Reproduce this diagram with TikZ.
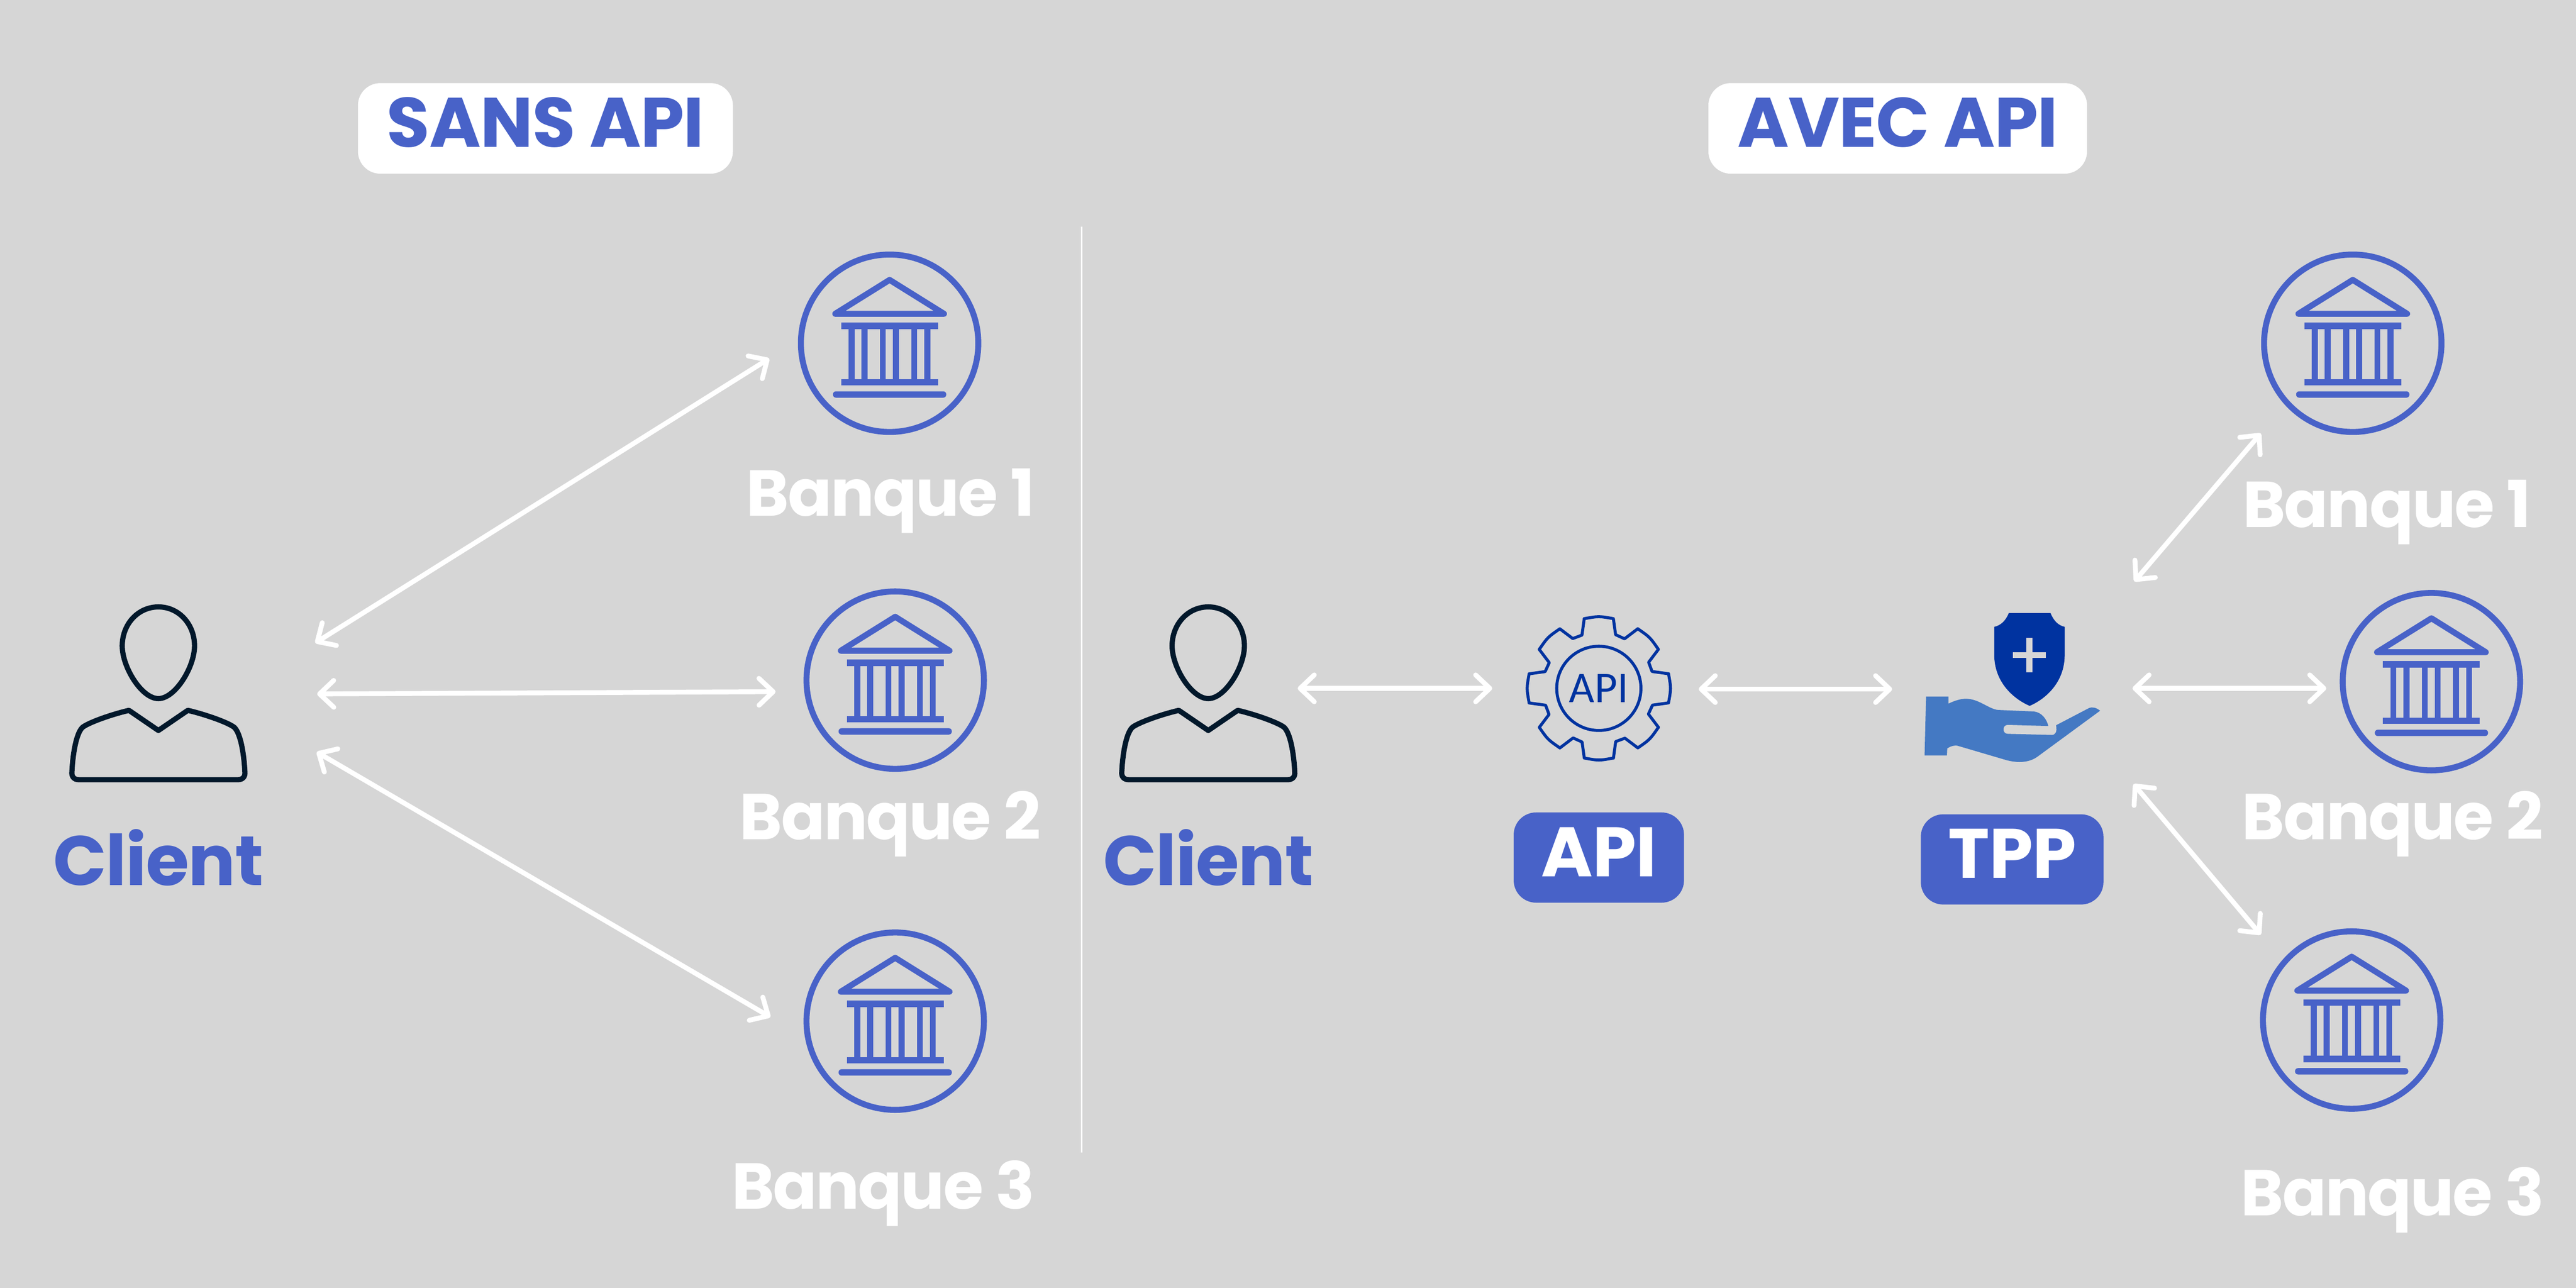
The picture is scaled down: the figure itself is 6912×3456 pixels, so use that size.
\documentclass[tikz,border=0pt]{standalone}
\usepackage{fontspec}
\setmainfont{Poppins}
\newfontfamily\carlitofont{Carlito}
\usetikzlibrary{arrows.meta}
\definecolor{bgc}{HTML}{D6D6D6}
\definecolor{bluec}{HTML}{4862C8}
\definecolor{navyc}{HTML}{0033A0}
\definecolor{handc}{HTML}{4479C3}
\definecolor{darkc}{HTML}{02182B}
\tikzset{
  link/.style={draw=white,line width=6.5pt,line cap=round,{Straight Barb[length=19pt,width=36pt,round]}-{Straight Barb[length=19pt,width=36pt,round]}},
  titlebox/.style={fill=white,rounded corners=30pt,text=bluec,inner sep=0pt,font=\bfseries\fontsize{94}{94}\selectfont\addfontfeature{LetterSpace=-1},text height=65.5pt,text depth=15.5pt,align=center},
  tagbox/.style={fill=bluec,rounded corners=30pt,text=white,inner sep=0pt,font=\bfseries\fontsize{94}{94}\selectfont\addfontfeature{LetterSpace=-0.5},text height=65.5pt,text depth=15pt,minimum height=121pt,align=center},
  clientlabel/.style={text=bluec,inner sep=0pt,anchor=base,font=\bfseries\fontsize{94}{94}\selectfont\addfontfeature{LetterSpace=-1}},
  banklabel/.style={text=white,inner sep=0pt,anchor=base,font=\bfseries\fontsize{87}{87}\selectfont\addfontfeature{LetterSpace=-2}},
  bank/.pic={
    \draw[bluec,line width=8pt] (0,0) circle[radius=238];
    \draw[bluec,line width=8pt,line join=round] (0,-170) -- (146,-79) -- (-146,-79) -- cycle;
    \fill[bluec] (-130,-55) rectangle (130,-38);
    \fill[bluec] (-130,96) rectangle (130,113);
    \fill[bluec,rounded corners=4pt] (-152,129) rectangle (152,146);
    \foreach \cx in {-102,-67,-18,17,66,101}{\fill[bluec] (\cx-8,-40) rectangle (\cx+8,98);}
  },
  person/.pic={
    \draw[darkc,line width=7pt] (0,-171.5) .. controls (55,-171.5) and (97,-125) .. (97,-67)
      .. controls (97,-10) and (45,74.5) .. (0,74.5)
      .. controls (-45,74.5) and (-97,-10) .. (-97,-67)
      .. controls (-97,-125) and (-55,-171.5) .. (0,-171.5) -- cycle;
    \draw[darkc,line width=7pt,line join=round] (-79,106) -- (0,160) -- (79,106)
      .. controls (130,118) and (190,140) .. (204,152)
      .. controls (222,170) and (230,230) .. (232,270)
      .. controls (234,285) and (225,292) .. (214,292)
      -- (-214,292)
      .. controls (-225,292) and (-234,285) .. (-232,270)
      .. controls (-230,230) and (-222,170) .. (-204,152)
      .. controls (-190,140) and (-130,118) .. (-79,106) -- cycle;
  },
}
\begin{document}
\begin{tikzpicture}[x=0.5pt,y=-0.5pt]
\fill[bgc] (0,0) rectangle (6912,3456);
\useasboundingbox (0,0) rectangle (6912,3456);
% divider
\coordinate (divtop) at (2902,608);
\coordinate (divbot) at (2902,3093);
\draw[white,line width=1.9pt] (divtop) -- (divbot);
% titles
\node[titlebox,minimum width=503pt,minimum height=121.5pt] (t1) at (1463.5,344.5) {SANS API};
\node[titlebox,minimum width=508pt,minimum height=121.5pt] (t2) at (5092,344.5) {AVEC API};
% persons
\pic at (425,1800) {person};
\pic at (3242,1800) {person};
\node[clientlabel] (c1) at (425,2376) {Client};
\node[clientlabel] (c2) at (3242,2376) {Client};
% banks
\pic at (2387,921) {bank};
\pic at (2402,1825) {bank};
\pic at (2402,2740) {bank};
\pic at (6313,921) {bank};
\pic at (6524,1829) {bank};
\pic at (6310,2737) {bank};
\node[banklabel] (l1) at (2390,1384) {Banque 1};
\node[banklabel] (l2) at (2389,2253) {Banque 2};
\node[banklabel] (l3) at (2370,3244) {Banque 3};
\node[banklabel] (r1) at (6405,1415) {Banque 1};
\node[banklabel] (r2) at (6420,2253) {Banque 2};
\node[banklabel] (r3) at (6420,3262) {Banque 3};
% gear
\begin{scope}[shift={(4290,1847)}]
  \foreach \i in {0,...,7}{
    \draw[navyc,line width=4pt,line join=round,line cap=round,rotate=45*\i]
      (-39,-187) .. controls (0,-194) .. (39,-187) -- (45,-144) -- (69,-133) -- (104.6,-160);
  }
  \draw[navyc,line width=4pt] (0,0) circle[radius=113];
\end{scope}
\node[text=navyc,inner sep=0pt,anchor=base,font=\carlitofont\fontsize{59}{59}\selectfont] (gearlabel) at (4290,1885) {API};
% tags
\node[tagbox,minimum width=228.5pt] (apibox) at (4290,2301) {API};
\node[tagbox,minimum width=245pt] (tppbox) at (5399,2306) {TPP};
% shield
\fill[navyc] (5390,1645) -- (5502,1645) .. controls (5510,1665) and (5522,1678) .. (5540,1682) -- (5540,1757)
  .. controls (5540,1830) and (5490,1875) .. (5446,1894)
  .. controls (5402,1875) and (5351,1830) .. (5351,1757) -- (5351,1682)
  .. controls (5369,1678) and (5382,1665) .. (5390,1645) -- cycle;
\fill[bgc] (5401,1750) rectangle (5490,1765);
\fill[bgc] (5437,1712) rectangle (5454,1804);
% hand
\fill[handc] (5168,1869) -- (5228,1869) -- (5228,1888)
  .. controls (5245,1880) and (5260,1875) .. (5275,1875)
  .. controls (5310,1875) and (5335,1902) .. (5361,1905)
  -- (5457,1909) .. controls (5478,1911) and (5492,1930) .. (5496,1948)
  -- (5387,1945) .. controls (5372,1945) and (5372,1969) .. (5387,1969)
  -- (5505,1972) .. controls (5515,1972) and (5520,1965) .. (5517,1946)
  -- (5605,1900) .. controls (5615,1896) and (5625,1899) .. (5635,1907)
  -- (5466,2031) .. controls (5450,2042) and (5425,2050) .. (5385,2040)
  -- (5256,2002) .. controls (5245,1998) and (5235,2002) .. (5225,2008)
  -- (5224,2027) -- (5164,2027) -- cycle;
% connector ends
\coordinate (a1s) at (846,1725); \coordinate (a1e) at (2064,962);
\coordinate (a2s) at (851,1862); \coordinate (a2e) at (2081,1856);
\coordinate (a3s) at (850,2018); \coordinate (a3e) at (2067,2729);
\coordinate (b1s) at (3482,1847); \coordinate (b1e) at (4004,1847);
\coordinate (b2s) at (4558,1849); \coordinate (b2e) at (5077,1849);
\coordinate (b3s) at (5722,1847); \coordinate (b3e) at (6242,1847);
\coordinate (b4s) at (5727,1560); \coordinate (b4e) at (6066,1163);
\coordinate (b5s) at (5725,2104); \coordinate (b5e) at (6066,2508);
\draw[link] (a1s) -- (a1e);
\draw[link] (a2s) -- (a2e);
\draw[link] (a3s) -- (a3e);
\draw[link] (b1s) -- (b1e);
\draw[link] (b2s) -- (b2e);
\draw[link] (b3s) -- (b3e);
\draw[link] (b4s) -- (b4e);
\draw[link] (b5s) -- (b5e);
\end{tikzpicture}
\end{document}
